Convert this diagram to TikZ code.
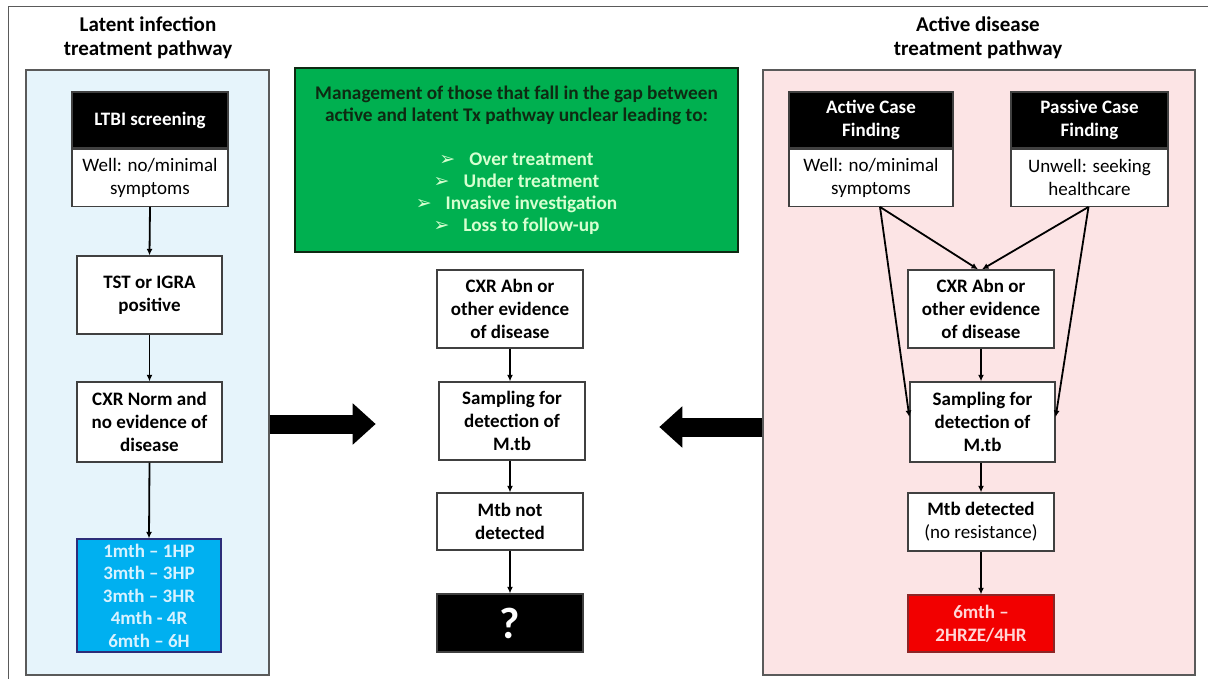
\documentclass[tikz,border=0pt]{standalone}
\usepackage{fontspec}
\setmainfont{Carlito}
\newfontfamily\symfont{DejaVu Sans}
\usetikzlibrary{calc,arrows.meta}
\definecolor{boxgray}{HTML}{404040}
\definecolor{panelgray}{HTML}{5A5A5A}
\definecolor{panelblue}{HTML}{E6F4FB}
\definecolor{panelred}{HTML}{FCE4E5}
\definecolor{gapgreen}{HTML}{00B050}
\definecolor{gaptext}{HTML}{0E2A12}
\definecolor{bulletgreen}{HTML}{D6FFD0}
\definecolor{regblue}{HTML}{00B0F0}
\definecolor{regbluetext}{HTML}{D8F2FF}
\definecolor{regred}{HTML}{F20000}
\definecolor{regredtext}{HTML}{FFD6D6}
\def\bullet{{\color{bulletgreen}\symfont\fontsize{19}{22}\selectfont ➢}\hspace{14pt}}

\begin{document}
\begin{tikzpicture}[x=1pt,y=-1pt]
\tikzstyle{flowbox}=[draw=boxgray, line width=1.3pt, fill=white, inner sep=0pt, align=center, minimum width=146pt, minimum height=78pt, font=\fontsize{19}{23}\selectfont\bfseries]
\tikzstyle{plainbox}=[flowbox, minimum height=57pt, font=\fontsize{19}{23}\selectfont]
\tikzstyle{headbox}=[flowbox, fill=black, text=white, minimum height=56pt]
\tikzstyle{title}=[align=center, font=\fontsize{21}{24}\selectfont\bfseries]
\tikzstyle{panel}=[draw=panelgray, line width=1.4pt, inner sep=0pt, minimum width=243pt, minimum height=605pt]
\tikzstyle{flow}=[line width=1.8pt, -{Latex[length=6.5pt,width=6pt]}]
\tikzstyle{bigarrow}=[line width=19pt, -{Triangle[length=23pt,width=40pt]}]
\tikzstyle{outerframe}=[draw=panelgray, line width=1pt]

\useasboundingbox (0,0) rectangle (1208,679);
\draw[outerframe] (1208,7) -- (8,7) -- (8,679);

% panels
\node[panel, fill=panelblue] (lpanel) at (147.5,372.5) {};
\node[panel, fill=panelred, minimum width=432pt] (rpanel) at (979,372.5) {};
\node[title] (ltitle) at (148,38) {Latent infection\\treatment pathway};
\node[title] (rtitle) at (978,38) {Active disease\\treatment pathway};

% latent pathway
\node[headbox, minimum width=156pt] (ltbi) at (150,120) {LTBI screening};
\node[plainbox, minimum width=156pt, anchor=north] (ltbiwell) at (ltbi.south) {Well: no/minimal\\symptoms};
\node[flowbox, minimum width=145pt] (tst) at (149.5,295) {TST or IGRA\\positive};
\node[flowbox, minimum width=145pt, minimum height=80pt] (cxrn) at (149.5,422) {CXR Norm and\\no evidence of\\disease};
\node[flowbox, fill=regblue, draw=boxgray!70!blue, text=regbluetext, minimum width=144pt, minimum height=113pt, font=\fontsize{19}{22.5}\selectfont\bfseries] (ltreg) at (149,595.5) {1mth -- 1HP\\3mth -- 3HP\\3mth -- 3HR\\4mth - 4R\\6mth -- 6H};

% gap in the middle
\node[draw=gaptext, line width=2.6pt, fill=gapgreen, text=gaptext, align=center, minimum width=443pt, minimum height=184pt, font=\fontsize{19.3}{22}\selectfont\bfseries] (gap) at (516.5,160) {Management of those that fall in the gap between\\active and latent Tx pathway unclear leading to:\\[22pt]
{\color{bulletgreen}\bullet Over treatment}\\
{\color{bulletgreen}\bullet Under treatment}\\
{\color{bulletgreen}\bullet Invasive investigation}\\
{\color{bulletgreen}\bullet Loss to follow-up}};
\node[flowbox] (cabn) at (510,309) {CXR Abn or\\other evidence\\of disease};
\node[flowbox] (csamp) at (512,421) {Sampling for\\detection of\\M.tb};
\node[flowbox, minimum height=57pt] (cnot) at (510,521.5) {Mtb not\\detected};
\node[headbox, minimum height=58pt, font=\fontsize{44}{44}\selectfont\bfseries] (cq) at (510,623) {?};

% active pathway
\node[headbox, minimum width=164pt] (acf) at (871,120) {Active Case\\Finding};
\node[plainbox, minimum width=164pt, anchor=north] (acfwell) at (acf.south) {Well: no/minimal\\symptoms};
\node[headbox, minimum width=157pt] (pcf) at (1089.5,120) {Passive Case\\Finding};
\node[plainbox, minimum width=157pt, anchor=north] (pcfwell) at (pcf.south) {Unwell: seeking\\healthcare};
\node[flowbox] (rabn) at (981,309) {CXR Abn or\\other evidence\\of disease};
\node[flowbox, minimum width=145pt, minimum height=80pt] (rsamp) at (982.5,422) {Sampling for\\detection of\\M.tb};
\node[flowbox, minimum height=58pt] (rdet) at (981,522) {Mtb detected\\{\mdseries (no resistance)}};
\node[flowbox, fill=regred, draw=boxgray!60!red, text=regredtext, minimum height=57pt] (rreg) at (981,623.5) {6mth --\\2HRZE/4HR};

% connectors
\draw[flow] (ltbiwell.south) -- (tst.north);
\draw[flow] (tst.south) -- (cxrn.north);
\draw[flow] (cxrn.south) -- (ltreg.north);

\draw[flow] (cabn.south) -- (cabn.south |- csamp.north);
\draw[flow] (cabn.south |- csamp.south) -- (cabn.south |- cnot.north);
\draw[flow] (cnot.south) -- (cq.north);

\draw[flow] ([xshift=9pt]acfwell.south) -- ([xshift=-3pt]rabn.north);
\draw[flow] ([xshift=9pt]acfwell.south) -- ([yshift=5pt]rsamp.west);
\draw[flow] ([xshift=-1pt]pcfwell.south) -- ([xshift=1pt]rabn.north);
\draw[flow] ([xshift=-1pt]pcfwell.south) -- ([yshift=5pt]rsamp.east);
\draw[flow] (rabn.south) -- (rabn.south |- rsamp.north);
\draw[flow] (rabn.south |- rsamp.south) -- (rdet.north);
\draw[flow] (rdet.south) -- (rreg.north);

% block arrows between panels
\coordinate (lgap) at (lpanel.east |- 0,424);
\coordinate (rgap) at (rpanel.west |- 0,427);
\draw[bigarrow] (lgap) -- +(106,0);
\draw[bigarrow] (rgap) -- +(-103,0);

\end{tikzpicture}
\end{document}
